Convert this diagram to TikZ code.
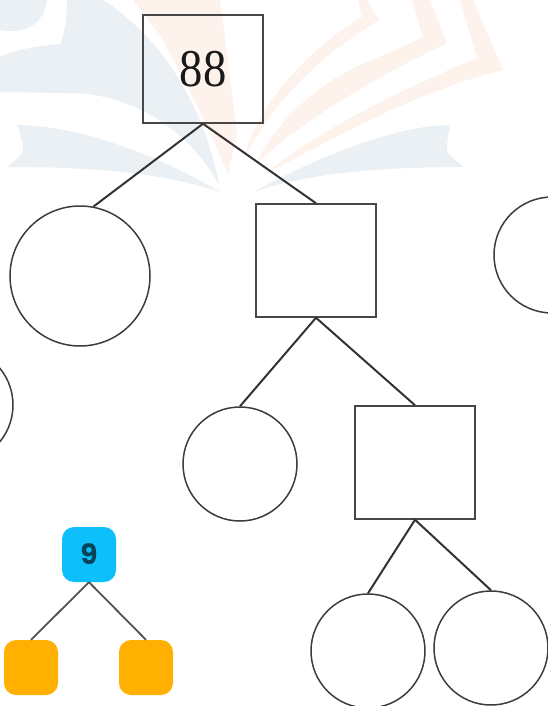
\documentclass[tikz,border=0pt]{standalone}
\usepackage{fontspec}
\setmainfont{Liberation Serif}
\newfontfamily\ninefont{Poppins}
\definecolor{wblue}{HTML}{EAF0F3}
\definecolor{worange}{HTML}{FEF2ED}
\definecolor{line}{HTML}{333333}
\definecolor{sky}{HTML}{0DC0FC}
\definecolor{amber}{HTML}{FFB000}
\tikzset{
  box/.style={draw=line!90,line width=1.5pt,inner sep=0pt,minimum width=120pt},
  ring/.style={draw=line!95,line width=1.5pt,circle,inner sep=0pt},
  link/.style={draw=line,line width=2pt},
  tag/.style={rounded corners=12pt,inner sep=0pt,minimum width=54pt,minimum height=55pt},
  thin link/.style={draw=line!85,line width=1.8pt}
}
\begin{document}
\begin{tikzpicture}[x=1pt,y=-1pt]
\useasboundingbox (0,0) rectangle (547,706);
\fill[white] (0,0) rectangle (547,706);
% watermark: pale blue
\fill[wblue] (0,0) -- (47,0) .. controls (44,22) and (28,35) .. (0,30) -- cycle;
\fill[wblue] (67,0) -- (103,0) .. controls (165,40) and (205,110) .. (219,185) .. controls (190,130) and (130,92) .. (67,93) .. controls (40,93) and (20,92) .. (0,92) -- (0,57) .. controls (20,48) and (40,46) .. (60,44) .. controls (66,30) and (67,15) .. (67,0) -- cycle;
\fill[wblue] (17,125) .. controls (70,125) and (150,150) .. (220,192) .. controls (160,172) and (90,167) .. (7,167) .. controls (15,160) and (24,155) .. (23,148) .. controls (22,140) and (20,132) .. (17,125) -- cycle;
\fill[wblue] (450,125) .. controls (400,125) and (320,155) .. (254,192) .. controls (310,172) and (390,167) .. (464,167) .. controls (455,160) and (447,155) .. (447,148) .. controls (447,140) and (449,132) .. (450,125) -- cycle;
% watermark: pale orange
\fill[worange] (133,0) -- (220,0) -- (237,133) -- (228,175) .. controls (215,140) and (190,90) .. (160,35) -- cycle;
\fill[worange] (358,0) -- (367,0) -- (379,20) .. controls (330,50) and (280,90) .. (245,157) .. controls (250,125) and (290,60) .. (362,17) -- cycle;
\fill[worange] (412,0) -- (430,0) -- (447,43) .. controls (380,75) and (310,115) .. (257,163) .. controls (270,130) and (310,90) .. (350,70) .. controls (380,55) and (410,45) .. (423,37) -- cycle;
\fill[worange] (460,0) -- (473,0) -- (503,70) .. controls (420,90) and (340,135) .. (267,173) .. controls (310,135) and (400,90) .. (477,58) -- cycle;
% tree
\node[box,minimum height=108pt] (a) at (203,69) {\fontsize{53pt}{53pt}\selectfont\color{black!90}\scalebox{.88}[1]{88}};
\node[ring,minimum size=140pt] (c1) at (80,276) {};
\node[box,minimum height=113pt] (b) at (316,260.5) {};
\node[ring,minimum size=116pt] (c2) at (552,255) {};
\node[ring,minimum size=116pt] (c3) at (-45,405) {};
\node[ring,minimum size=114pt] (c4) at (240,464) {};
\node[box,minimum height=113pt] (d) at (415,462.5) {};
\node[ring,minimum size=114pt] (c5) at (368,651) {};
\node[ring,minimum size=114pt] (c6) at (491,648) {};
\draw[link] (a.south) -- (c1.79);
\draw[link] (a.south) -- (b.north);
\draw[link] (b.south) -- (c4.north);
\draw[link] (b.south) -- (d.north);
\draw[link] (d.south) -- (c5.north);
\draw[link] (d.south) -- (c6.north);
% small tree
\node[tag,fill=sky] (n) at (89,554.5) {\fontsize{28pt}{28pt}\selectfont\ninefont\bfseries\color{black!65!sky}9};
\node[tag,fill=amber] (l) at (31,667.5) {};
\node[tag,fill=amber] (r) at (146,667.5) {};
\draw[thin link] (n.south) -- (l.north);
\draw[thin link] (n.south) -- (r.north);
\end{tikzpicture}
\end{document}
